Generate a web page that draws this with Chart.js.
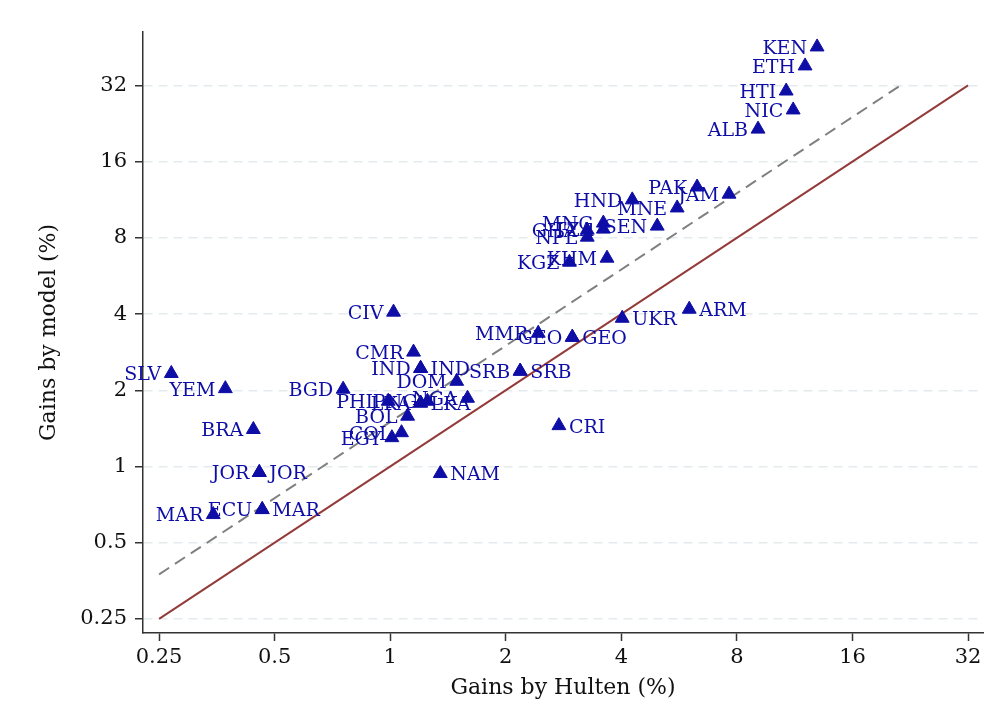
<!DOCTYPE html>
<html>
<head>
<meta charset="utf-8">
<script src="https://cdn.jsdelivr.net/npm/chart.js@4.4.1/dist/chart.umd.min.js"></script>
<style>
  html, body { margin: 0; padding: 0; background: #fff; }
  #wrap { width: 985px; height: 703px; }
</style>
</head>
<body>
<div id="wrap"><canvas id="chart" width="985" height="703"></canvas></div>
<script>
// countries labelled on the left of the marker
const leftCodes = ['KEN', 'ETH', 'HTI', 'NIC', 'ALB', 'PAK', 'JAM', 'HND', 'MNE', 'MNG', 'TZA', 'GHA', 'NPL', 'SEN',
  'KHM', 'KGZ', 'CIV', 'MMR', 'GEO', 'CMR', 'IND', 'DOM', 'SRB', 'SLV', 'YEM', 'BGD', 'PHL', 'LKA', 'PNG', 'NGA',
  'BOL', 'COL', 'EGY', 'BRA', 'JOR', 'MAR', 'ECU'];
const leftHulten = [12.94, 12.04, 10.75, 11.21, 9.08, 6.30, 7.63, 4.27, 5.59, 3.59, 3.59, 3.26, 3.26, 4.96,
  3.67, 2.93, 1.02, 2.43, 2.98, 1.15, 1.20, 1.49, 2.18, 0.269, 0.372, 0.754, 0.988, 1.20, 1.25, 1.59,
  1.11, 1.07, 1.01, 0.440, 0.456, 0.346, 0.464];
const leftModel = [45.4, 38.2, 30.4, 25.6, 21.5, 12.7, 11.9, 11.3, 10.5, 9.15, 8.66, 8.58, 8.05, 8.90,
  6.65, 6.41, 4.07, 3.36, 3.24, 2.83, 2.44, 2.17, 2.38, 2.33, 2.03, 2.02, 1.81, 1.78, 1.81, 1.86,
  1.58, 1.36, 1.30, 1.40, 0.947, 0.646, 0.676];

// countries labelled on the right of the marker
const rightCodes = ['UKR', 'ARM', 'GEO', 'SRB', 'IND', 'LKA', 'CRI', 'NAM', 'JOR', 'MAR'];
const rightHulten = [4.02, 6.01, 2.98, 2.18, 1.20, 1.20, 2.75, 1.35, 0.456, 0.464];
const rightModel = [3.85, 4.18, 3.24, 2.38, 2.44, 1.78, 1.45, 0.938, 0.947, 0.676];

const tickValues = [0.25, 0.5, 1, 2, 4, 8, 16, 32];
const lineX = [0.25, 32];          // 45 degree line
const dashX = [0.25, 21.33];       // 1.5x line
const dashFactor = 1.5;

const blue = '#0e0ea6';
const serif = "'DejaVu Serif', serif";

const toPoints = (xs, ys) => xs.map((x, i) => ({ x: x, y: ys[i] }));

const pointLabels = {
  id: 'pointLabels',
  afterDatasetsDraw(chart) {
    const ctx = chart.ctx;
    ctx.save();
    ctx.font = `19px ${serif}`;
    ctx.fillStyle = blue;
    ctx.textBaseline = 'middle';
    chart.data.datasets.forEach((ds, di) => {
      if (!ds.codes) return;
      const meta = chart.getDatasetMeta(di);
      meta.data.forEach((el, i) => {
        if (ds.labelSide === 'left') {
          ctx.textAlign = 'right';
          ctx.fillText(ds.codes[i], el.x - 10, el.y + 2);
        } else {
          ctx.textAlign = 'left';
          ctx.fillText(ds.codes[i], el.x + 10, el.y + 2);
        }
      });
    });
    ctx.restore();
  }
};

const setTicks = (scale) => {
  scale.ticks = tickValues.map(v => ({ value: v }));
};

new Chart(document.getElementById('chart'), {
  type: 'scatter',
  data: {
    datasets: [
      {
        data: toPoints(leftHulten, leftModel),
        codes: leftCodes,
        labelSide: 'left',
        pointStyle: 'triangle',
        pointRadius: 8,
        backgroundColor: blue,
        borderColor: blue,
        borderWidth: 1,
        order: 1
      },
      {
        data: toPoints(rightHulten, rightModel),
        codes: rightCodes,
        labelSide: 'right',
        pointStyle: 'triangle',
        pointRadius: 8,
        backgroundColor: blue,
        borderColor: blue,
        borderWidth: 1,
        order: 1
      },
      {
        type: 'line',
        data: toPoints(lineX, lineX),
        borderColor: '#933a3a',
        borderWidth: 2,
        pointRadius: 0,
        order: 2
      },
      {
        type: 'line',
        data: toPoints(dashX, dashX.map(v => v * dashFactor)),
        borderColor: '#808080',
        borderWidth: 2,
        borderDash: [12, 7],
        pointRadius: 0,
        order: 2
      }
    ]
  },
  options: {
    responsive: false,
    animation: false,
    layout: { autoPadding: false, padding: { top: 32, right: 2, left: 0, bottom: 0 } },
    plugins: {
      legend: { display: false },
      tooltip: { enabled: false }
    },
    scales: {
      x: {
        type: 'logarithmic',
        min: 0.227,
        max: 35,
        afterBuildTicks: setTicks,
        afterFit: (scale) => {
          scale.height = 70;
          scale.paddingLeft = 0;
          scale.paddingRight = 0;
        },
        border: { color: '#333', width: 1.5 },
        grid: {
          drawOnChartArea: false,
          drawTicks: true,
          tickLength: 8,
          tickColor: '#333',
          tickWidth: 1.5
        },
        ticks: {
          color: '#111',
          font: { family: serif, size: 21 },
          padding: 4,
          maxRotation: 0,
          autoSkip: false,
          callback: (v) => String(v)
        },
        title: {
          display: true,
          text: 'Gains by Hulten (%)',
          color: '#111',
          font: { family: serif, size: 22 },
          padding: { top: 0, bottom: 2 }
        }
      },
      y: {
        type: 'logarithmic',
        min: 0.22,
        max: 52,
        afterBuildTicks: setTicks,
        afterFit: (scale) => {
          scale.width = 143;
          scale.paddingTop = 0;
          scale.paddingBottom = 0;
        },
        border: { color: '#333', width: 1.5, dash: [9, 6] },
        grid: {
          color: '#e3ebee',
          lineWidth: 1.5,
          drawTicks: true,
          tickLength: 8,
          tickColor: '#333',
          tickWidth: 1.5,
          tickBorderDash: [1, 0]
        },
        ticks: {
          color: '#111',
          font: { family: serif, size: 21 },
          padding: 8,
          autoSkip: false,
          callback: (v) => String(v)
        },
        title: {
          display: true,
          text: 'Gains by model (%)',
          color: '#111',
          font: { family: serif, size: 22 },
          padding: { top: 36, bottom: 0 }
        }
      }
    }
  },
  plugins: [pointLabels]
});
</script>
</body>
</html>
